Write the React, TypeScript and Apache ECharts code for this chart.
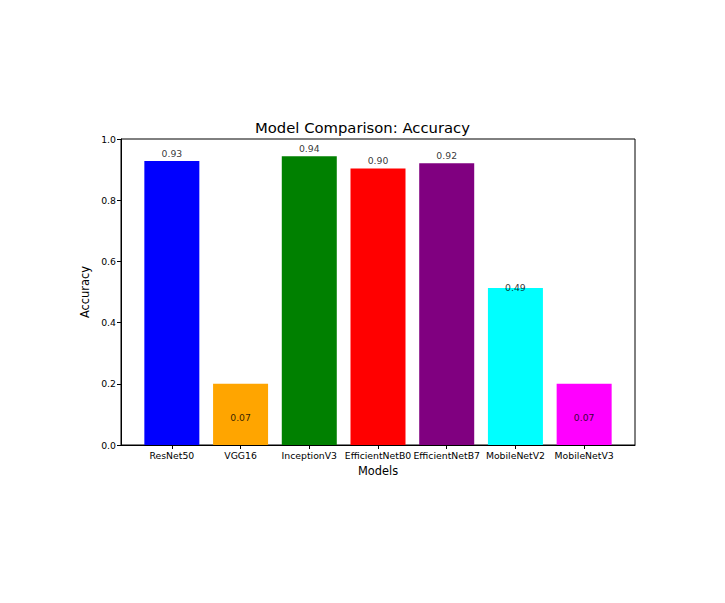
import React, { useEffect, useRef } from 'react'
import * as echarts from 'echarts'

const models = ['ResNet50', 'VGG16', 'InceptionV3', 'EfficientNetB0', 'EfficientNetB7', 'MobileNetV2', 'MobileNetV3']
const barHeights = [0.928, 0.2, 0.944, 0.904, 0.921, 0.513, 0.2]
const accuracy = [0.928, 0.065, 0.944, 0.904, 0.921, 0.49, 0.065]
const colors = ['#0000ff', '#ffa500', '#008000', '#ff0000', '#800080', '#00ffff', '#ff00ff']
const yTicks = [0, 0.2, 0.4, 0.6, 0.8, 1.0]

const font = 'DejaVu Sans'

const App = () => {
    const chart: any = useRef()
    useEffect(() => {
        const myChart = echarts.init(chart.current, null, { renderer: 'svg' })
        const positions = models.map((_, i) => i)
        myChart.setOption({
            animation: false,
            title: {
                text: 'Model Comparison: Accuracy',
                left: 'center',
                top: 107,
                textStyle: { fontFamily: font, fontSize: 14.8, fontWeight: 'normal', color: '#000' },
            },
            grid: {
                left: 113, right: 82, top: 131, bottom: 150,
                show: true, borderColor: '#000', borderWidth: 1,
            },
            xAxis: {
                type: 'value',
                min: -0.74, max: 6.74,
                name: 'Models',
                nameLocation: 'middle',
                nameGap: 20,
                nameTextStyle: { fontFamily: font, fontSize: 11.4, color: '#000' },
                axisLine: { onZero: false, lineStyle: { color: '#000' } },
                axisTick: { show: true, length: 4, customValues: positions, lineStyle: { color: '#000' } },
                axisLabel: {
                    customValues: positions,
                    fontFamily: font, fontSize: 9.3, color: '#000', margin: 6,
                    formatter: (v: number) => models[Math.round(v)] ?? '',
                },
                splitLine: { show: false },
            },
            yAxis: {
                type: 'value',
                min: 0, max: 1, interval: 0.2,
                name: 'Accuracy',
                nameLocation: 'middle',
                nameGap: 19,
                nameTextStyle: { fontFamily: font, fontSize: 11.4, color: '#000' },
                axisLine: { show: true, onZero: false, lineStyle: { color: '#000' } },
                axisTick: { show: true, length: 4, lineStyle: { color: '#000' } },
                axisLabel: {
                    fontFamily: font, fontSize: 9.3, color: '#000', margin: 5,
                    formatter: (v: number) => yTicks.includes(Math.round(v * 10) / 10) ? v.toFixed(1) : '',
                },
                splitLine: { show: false },
            },
            series: [
                {
                    type: 'bar',
                    barWidth: 55,
                    data: barHeights.map((v, i) => ({ value: [i, v], itemStyle: { color: colors[i] } })),
                },
                {
                    type: 'scatter',
                    symbolSize: 0,
                    silent: true,
                    z: 5,
                    data: accuracy.map((v, i) => [i, v + 0.01]),
                    label: {
                        show: true,
                        position: 'top',
                        distance: 0,
                        fontFamily: font,
                        fontSize: 9.3,
                        color: '#000',
                        formatter: (p: any) => accuracy[p.dataIndex].toFixed(2),
                    },
                },
            ],
        })
        return () => {
            myChart.dispose()
        }
    }, [])

    return <div ref={chart} style={{ width: 709, height: 587 }} />
}

export default App
